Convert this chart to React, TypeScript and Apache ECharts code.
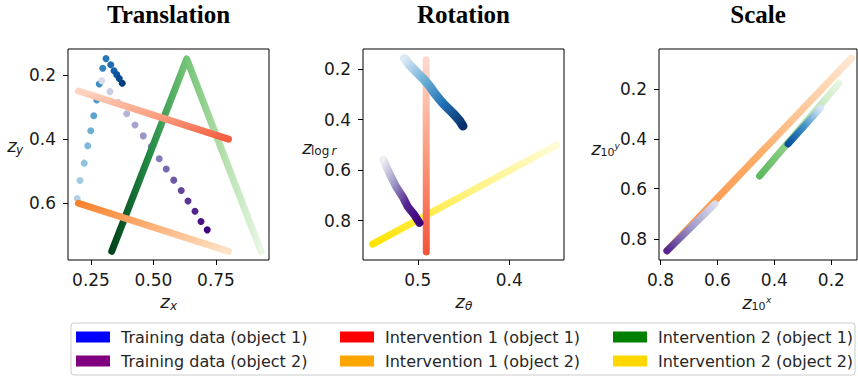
import React, { useEffect, useRef } from 'react';
import * as echarts from 'echarts';

// ---------- Translation ----------
const transTrain1: number[][] = [
  [0.195, 0.585], [0.206, 0.529], [0.223, 0.475], [0.237, 0.421], [0.249, 0.374],
  [0.261, 0.327], [0.273, 0.278], [0.283, 0.228], [0.297, 0.179], [0.31, 0.149],
  [0.329, 0.168], [0.342, 0.187], [0.353, 0.199], [0.363, 0.211], [0.375, 0.226],
];
const transTrain2: number[][] = [
  [0.293, 0.218], [0.326, 0.252], [0.358, 0.286], [0.393, 0.321], [0.426, 0.356],
  [0.459, 0.39], [0.491, 0.423], [0.523, 0.461], [0.551, 0.493], [0.581, 0.528],
  [0.611, 0.56], [0.638, 0.593], [0.666, 0.625], [0.69, 0.657], [0.715, 0.683],
];
const transInt1Obj1: number[][] = [[0.2, 0.25], [0.8, 0.4]];
const transInt1Obj2: number[][] = [[0.2, 0.6], [0.8, 0.75]];
const transInt2Obj1: number[][] = [[0.333, 0.75], [0.633, 0.15], [0.93, 0.75]];

// ---------- Rotation ----------
const rotTrain1: number[][] = [
  [0.5146, 0.158], [0.5091, 0.184], [0.5018, 0.211], [0.4945, 0.237], [0.4871, 0.267],
  [0.4817, 0.296], [0.4762, 0.32], [0.4707, 0.343], [0.4652, 0.362], [0.4597, 0.382],
  [0.4542, 0.405], [0.4505, 0.426],
];
const rotTrain2: number[][] = [
  [0.5377, 0.56], [0.5311, 0.613], [0.5237, 0.666], [0.5165, 0.706], [0.511, 0.745],
  [0.5036, 0.778], [0.4982, 0.809],
];
const rotInt1Obj1: number[][] = [[0.4909, 0.164], [0.4907, 0.924]];
const rotInt2Obj2: number[][] = [[0.5495, 0.893], [0.348, 0.501]];

// ---------- Scale ----------
const scaleTrain1: number[][] = [[0.352, 0.421], [0.239, 0.278]];
const scaleTrain2: number[][] = [[0.777, 0.848], [0.609, 0.661]];
const scaleInt1Obj2: number[][] = [[0.777, 0.848], [0.13, 0.078]];
const scaleInt2Obj1: number[][] = [[0.452, 0.549], [0.173, 0.178]];

// ---------- Axes / labels ----------
const titles = ['Translation', 'Rotation', 'Scale'];
const transXTicks = [0.25, 0.5, 0.75];
const transYTicks = [0.2, 0.4, 0.6];
const rotXTicks = [0.5, 0.4];
const rotYTicks = [0.2, 0.4, 0.6, 0.8];
const scaleXTicks = [0.8, 0.6, 0.4, 0.2];
const scaleYTicks = [0.2, 0.4, 0.6, 0.8];
const legendLabels = [
  'Training data (object 1)', 'Training data (object 2)',
  'Intervention 1 (object 1)', 'Intervention 1 (object 2)',
  'Intervention 2 (object 1)', 'Intervention 2 (object 2)',
];
const legendColors = ['#0000ff', '#800080', '#ff0000', '#ffa500', '#008000', '#ffd700'];

const BLUES = ['#f7fbff', '#deebf7', '#c6dbef', '#9ecae1', '#6baed6', '#4292c6', '#2171b5', '#08519c', '#08306b'];
const PURPLES = ['#fcfbfd', '#efedf5', '#dadaeb', '#bcbddc', '#9e9ac8', '#807dba', '#6a51a3', '#54278f', '#3f007d'];

function hex2rgb(h: string) {
  return [parseInt(h.slice(1, 3), 16), parseInt(h.slice(3, 5), 16), parseInt(h.slice(5, 7), 16)];
}
function cmap(stops: string[], t: number) {
  const n = stops.length - 1;
  const p = Math.max(0, Math.min(1, t)) * n;
  const i = Math.min(n - 1, Math.floor(p));
  const f = p - i;
  const a = hex2rgb(stops[i]);
  const b = hex2rgb(stops[i + 1]);
  const c = a.map((v, k) => Math.round(v + (b[k] - v) * f));
  return `rgb(${c[0]},${c[1]},${c[2]})`;
}

function grad(pts: number[][], xInv: boolean, yInv: boolean, colors: string[]) {
  const [x0, y0] = pts[0];
  const [x1, y1] = pts[pts.length - 1];
  let gx0 = (x0 < x1) !== xInv ? 0 : 1;
  let gx1 = 1 - gx0;
  let gy0 = (y0 < y1) === yInv ? 0 : 1;
  let gy1 = 1 - gy0;
  if (Math.abs(x0 - x1) < 0.001) { gx0 = 0; gx1 = 0; }
  if (Math.abs(y0 - y1) < 0.001) { gy0 = 0; gy1 = 0; }
  return new echarts.graphic.LinearGradient(
    gx0, gy0, gx1, gy1,
    colors.map((c, i) => ({ offset: i / (colors.length - 1), color: c })),
  );
}

function lineSeries(idx: number, pts: number[][], xInv: boolean, yInv: boolean, colors: string[], width = 7) {
  return {
    type: 'line',
    xAxisIndex: idx,
    yAxisIndex: idx,
    data: pts,
    symbol: 'none',
    showSymbol: false,
    silent: true,
    lineStyle: { width, cap: 'round', join: 'round', color: grad(pts, xInv, yInv, colors) },
  };
}

function scatterSeries(idx: number, pts: number[][], stops: string[], t0: number, t1: number) {
  return {
    type: 'scatter',
    xAxisIndex: idx,
    yAxisIndex: idx,
    symbolSize: 7,
    silent: true,
    data: pts.map((p, i) => ({
      value: p,
      itemStyle: { color: cmap(stops, t0 + (t1 - t0) * (i / (pts.length - 1))), opacity: 1 },
    })),
  };
}

const FONT = 'DejaVu Sans';

function axis(idx: number, min: number, max: number, inverse: boolean, ticks: number[], dec: number, margin: number) {
  return {
    type: 'value',
    gridIndex: idx,
    min,
    max,
    inverse,
    axisLine: { show: false, onZero: false },
    splitLine: { show: false },
    axisTick: { show: true, length: 5, inside: false, customValues: ticks, lineStyle: { color: '#000', width: 1 } },
    axisLabel: {
      customValues: ticks,
      formatter: (v: number) => v.toFixed(dec),
      fontSize: 17,
      fontFamily: FONT,
      color: '#1a1a1a',
      margin,
    },
  };
}

function txt(x: number, y: number, text: string, size: number, opts: any = {}) {
  return {
    type: 'text',
    x,
    y,
    silent: true,
    style: {
      text,
      fontSize: size,
      fontFamily: opts.family || FONT,
      fontStyle: opts.italic ? 'italic' : 'normal',
      fontWeight: opts.bold ? 'bold' : 'normal',
      fill: opts.fill || '#1a1a1a',
      align: opts.align || 'left',
      verticalAlign: 'middle',
    },
  };
}

export default function App() {
  const ref = useRef<HTMLDivElement>(null);
  useEffect(() => {
    if (!ref.current) return;
    const chart = echarts.init(ref.current, undefined, { renderer: 'svg' });

    const grids = [
      { left: 68, top: 49, width: 201, height: 211 },
      { left: 363, top: 49, width: 201, height: 211 },
      { left: 659, top: 49, width: 198, height: 211 },
    ].map((g) => ({ ...g, show: true, borderColor: '#000', borderWidth: 1, backgroundColor: 'transparent', containLabel: false }));

    const xAxes = [
      axis(0, 0.158, 0.962, false, transXTicks, 2, 11),
      axis(1, 0.34, 0.56, true, rotXTicks, 1, 11),
      axis(2, 0.11, 0.805, true, scaleXTicks, 1, 11),
    ];
    const yAxes = [
      axis(0, 0.119, 0.777, true, transYTicks, 1, 12),
      axis(1, 0.121, 0.956, true, rotYTicks, 1, 12),
      axis(2, 0.041, 0.885, true, scaleYTicks, 1, 12),
    ];

    const series: any[] = [
      // Translation
      lineSeries(0, transInt2Obj1, false, true, ['#00441b', '#238b45', '#74c476', '#b5e0ad', '#e8f6e4']),
      lineSeries(0, transInt1Obj1, false, true, ['#fdd5c2', '#fca083', '#f45c3f']),
      lineSeries(0, transInt1Obj2, false, true, ['#f8822c', '#fdb27a', '#fee3c8']),
      scatterSeries(0, transTrain1, BLUES, 0.32, 0.95),
      scatterSeries(0, transTrain2, PURPLES, 0.25, 1.0),
      // Rotation
      lineSeries(1, rotInt2Obj2, true, true, ['#ffe400', '#fff27a', '#fffbd6']),
      lineSeries(1, rotInt1Obj1, true, true, ['#fdd9cb', '#fc9b7c', '#f5553c']),
      lineSeries(1, rotTrain1, true, true, ['#dbe9f6', '#6baed6', '#2171b5', '#08306b'], 9),
      lineSeries(1, rotTrain2, true, true, ['#efedf5', '#9e9ac8', '#54278f', '#3f007d'], 8),
      // Scale
      lineSeries(2, scaleInt1Obj2, true, true, ['#fd8d3c', '#fdae6b', '#fee7d2']),
      lineSeries(2, scaleInt2Obj1, true, true, ['#5fb960', '#a5d99b', '#e8f6e3']),
      lineSeries(2, scaleTrain1, true, true, ['#08519c', '#4292c6', '#d6e6f4']),
      lineSeries(2, scaleTrain2, true, true, ['#54278f', '#9e9ac8', '#dcdcec']),
    ];

    const g: any[] = [];
    // titles
    const titleX = [168.5, 463.5, 758];
    titles.forEach((t, i) => g.push(txt(titleX[i], 14.5, t, 25, { family: 'Liberation Serif', bold: true, align: 'center', fill: '#000' })));
    // axis names
    g.push(txt(165, 301, 'z', 18, { italic: true, align: 'center' }));
    g.push(txt(170, 305.5, 'x', 12, { italic: true }));
    g.push(txt(12, 145, 'z', 18, { italic: true, align: 'center' }));
    g.push(txt(16, 150, 'y', 12, { italic: true }));
    g.push(txt(460, 301, 'z', 18, { italic: true, align: 'center' }));
    g.push(txt(465, 305.5, 'θ', 12, { italic: true }));
    g.push(txt(307, 147, 'z', 18, { italic: true, align: 'center' }));
    g.push(txt(311, 151, 'log', 12, {}));
    g.push(txt(331.5, 151, 'r', 12, { italic: true }));
    g.push(txt(747, 302, 'z', 18, { italic: true, align: 'center' }));
    g.push(txt(751.5, 306.5, '10', 11, {}));
    g.push(txt(766, 300, 'x', 9, { italic: true }));
    g.push(txt(596, 148, 'z', 18, { italic: true, align: 'center' }));
    g.push(txt(600.5, 152.5, '10', 11, {}));
    g.push(txt(614.5, 146, 'y', 9, { italic: true }));

    // legend
    g.push({
      type: 'rect',
      silent: true,
      shape: { x: 71, y: 323, width: 784, height: 52, r: 3 },
      style: { fill: '#fff', stroke: '#cccccc', lineWidth: 1 },
    });
    const colSw = [76, 340, 613];
    const colTx = [121, 385, 658];
    const rowY = [337, 361];
    legendLabels.forEach((lab, i) => {
      const c = Math.floor(i / 2);
      const r = i % 2;
      g.push({
        type: 'rect',
        silent: true,
        shape: { x: colSw[c], y: rowY[r] - 5.5, width: 34, height: 11 },
        style: { fill: legendColors[i] },
      });
      g.push(txt(colTx[c], rowY[r], lab, 16, { fill: '#262626' }));
    });

    chart.setOption({
      animation: false,
      backgroundColor: '#fff',
      grid: grids,
      xAxis: xAxes,
      yAxis: yAxes,
      series,
      graphic: { elements: g },
    });
    return () => chart.dispose();
  }, []);
  return <div ref={ref} style={{ position: 'fixed', left: 0, top: 0, width: 858, height: 377 }} />;
}
